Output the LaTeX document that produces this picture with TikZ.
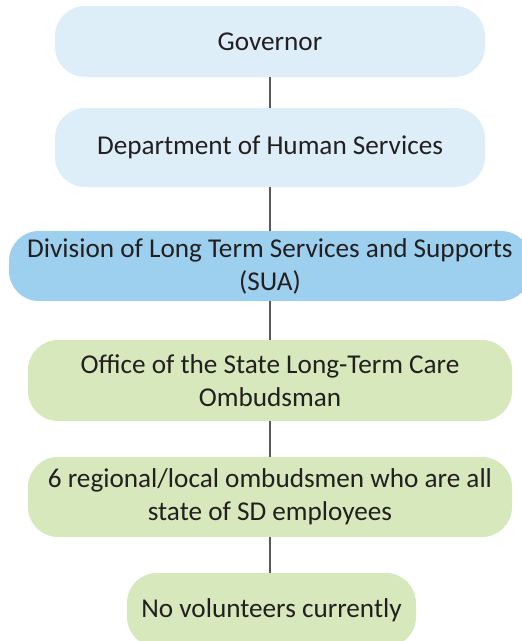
\documentclass[tikz,border=0pt]{standalone}
\usepackage{fontspec}
\setmainfont{Carlito}
\definecolor{paleblue}{RGB}{222,238,249}
\definecolor{midblue}{RGB}{157,208,238}
\definecolor{palegreen}{RGB}{214,232,188}
\definecolor{linegray}{RGB}{89,89,89}
\definecolor{txt}{RGB}{35,31,32}
\begin{document}
\begin{tikzpicture}[x=1pt,y=-1pt,
  orgbox/.style={rounded corners=30pt, inner sep=0pt, align=center, text=txt,
    font=\fontsize{27.2}{33}\selectfont},
  link/.style={draw=linegray, line width=2.2pt}]
\useasboundingbox (0,0) rectangle (522,641);
\clip (0,0) rectangle (522,641);
\node[orgbox, fill=paleblue, minimum width=430pt, minimum height=71pt] (gov) at (270,41.5) {Governor};
\node[orgbox, fill=paleblue, minimum width=430pt, minimum height=79pt] (dept) at (270,147.5) {\raisebox{-2.5pt}{Department of Human Services}};
\node[orgbox, fill=midblue, minimum width=522pt, minimum height=70pt] (div) at (270,266) {Division of Long Term Services and Supports\\(SUA)};
\node[orgbox, fill=palegreen, minimum width=484pt, minimum height=81pt] (office) at (270,380.5) {Office of the State Long-Term Care\\Ombudsman};
\node[orgbox, fill=palegreen, minimum width=484pt, minimum height=80pt] (reg) at (270,497) {6 regional/local ombudsmen who are all\\state of SD employees};
\node[orgbox, fill=palegreen, minimum width=289pt, minimum height=74pt] (novol) at (271.5,610) {No volunteers currently};
\draw[link] (gov) -- (dept);
\draw[link] (dept) -- (div);
\draw[link] (div) -- (office);
\draw[link] (office) -- (reg);
\draw[link] (reg.south) -- (reg.south |- novol.north);
\end{tikzpicture}
\end{document}
